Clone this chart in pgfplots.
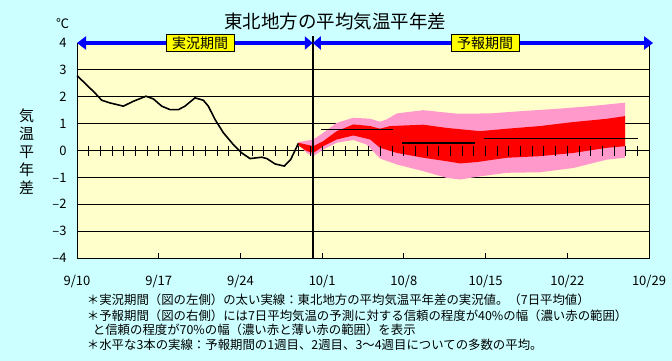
\documentclass[border=0pt]{standalone}
\usepackage{fontspec}
\setmainfont{Noto Sans CJK JP}
\usepackage{pgfplots}
\pgfplotsset{compat=1.18}
\usetikzlibrary{arrows.meta}
\definecolor{bgcyan}{HTML}{CCFFFF}
\definecolor{plotyellow}{HTML}{FFFFCC}
\definecolor{bandpink}{HTML}{FF99CC}
\definecolor{bandred}{HTML}{FF0000}
\definecolor{arrowblue}{HTML}{0000FF}
\definecolor{boxyellow}{HTML}{FFFF00}
\begin{document}
\begin{tikzpicture}
\useasboundingbox (0,0) rectangle (672bp,361bp);
\fill[bgcyan] (0,0) rectangle (672bp,361bp);
\begin{axis}[
  at={(77bp,103bp)}, anchor=south west, scale only axis,
  width=572bp, height=215bp,
  xmin=0, xmax=49, ymin=-4, ymax=4, clip=false,
  axis background/.style={fill=plotyellow},
  axis line style={black, line width=0.9bp},
  xtick={0,7,...,49},
  xticklabels={9/10,9/17,9/24,10/1,10/8,10/15,10/22,10/29},
  xtick pos=bottom, tick align=inside, major tick length=5bp,
  ytick={-4,...,4}, yticklabels={–4,–3,–2,–1,0,1,2,3,4},
  ytick style={draw=none},
  ymajorgrids, grid style={black, line width=0.8bp},
  tick label style={font=\fontsize{13bp}{15bp}\selectfont},
  yticklabel style={xshift=-7bp},
  xticklabel style={yshift=-14bp},
  xtick style={black, line width=0.9bp},
]
% daily ticks on the zero line
\addplot[black, line width=0.8bp, mark=|, mark size=5bp, mark options={line width=0.9bp}] coordinates {
(0,0) (1,0) (2,0) (3,0) (4,0) (5,0) (6,0) (7,0) (8,0) (9,0) (10,0) (11,0) (12,0)
(13,0) (14,0) (15,0) (16,0) (17,0) (18,0) (19,0) (20,0) (21,0) (22,0) (23,0) (24,0)
(25,0) (26,0) (27,0) (28,0) (29,0) (30,0) (31,0) (32,0) (33,0) (34,0) (35,0) (36,0)
(37,0) (38,0) (39,0) (40,0) (41,0) (42,0) (43,0) (44,0) (45,0) (46,0) (47,0) (48,0) (49,0)};
% 70% band
\addplot[fill=bandpink, draw=none] coordinates {
(18.96,0.31) (20.25,0.41) (21.10,0.66) (22.25,1.03) (23.68,1.22) (25.11,1.18) (25.96,1.07)
(26.54,1.16) (27.40,1.38) (29.67,1.50) (32.54,1.37) (35.39,1.38) (38.24,1.47) (41.10,1.55)
(43.96,1.65) (46.96,1.78)
(46.96,-0.27) (45.39,-0.34) (42.53,-0.65) (39.67,-0.81) (36.82,-0.83) (34.25,-0.98)
(32.82,-1.08) (31.68,-1.02) (29.67,-0.77) (27.40,-0.52) (25.96,-0.30) (24.82,0.22)
(23.68,0.39) (22.25,0.29) (21.10,0.04) (20.25,-0.21) (19.68,-0.09) (18.96,0.22)} -- cycle;
% 40% band
\addplot[fill=bandred, draw=none] coordinates {
(18.96,0.29) (20.25,0.16) (21.10,0.35) (22.25,0.72) (23.68,0.97) (25.11,0.91) (25.96,0.81)
(26.82,0.91) (29.67,0.96) (31.68,0.84) (33.10,0.78) (34.53,0.72) (36.82,0.81) (39.67,0.91)
(42.53,1.06) (45.39,1.18) (46.96,1.28)
(46.96,0.16) (45.39,0.10) (42.53,-0.09) (39.67,-0.21) (36.82,-0.27) (34.25,-0.43)
(32.82,-0.48) (31.68,-0.40) (29.67,-0.27) (27.40,-0.09) (25.96,0.10) (25.11,0.41)
(23.68,0.56) (22.25,0.41) (21.10,0.16) (20.25,-0.09) (19.68,-0.02) (18.96,0.19)} -- cycle;
% boundary between periods
\addplot[black, line width=2.3bp] coordinates {(20.2,-4) (20.2,4.25)};
% weekly means
\addplot[black, line width=1.8bp] coordinates {(20.91,0.78) (27.05,0.78)};
\addplot[black, line width=1.8bp] coordinates {(27.88,0.27) (34.10,0.27)};
\addplot[black, line width=1.8bp] coordinates {(34.88,0.45) (48.05,0.45)};
% observed
\addplot[black, line width=1.6bp] coordinates {
(0,2.79) (1.54,2.14) (2.12,1.87) (2.83,1.77) (3.97,1.65) (4.82,1.83) (5.91,2.02)
(6.54,1.92) (7.26,1.65) (7.97,1.52) (8.68,1.52) (9.25,1.65) (10.11,1.96) (10.82,1.87)
(11.25,1.65) (11.83,1.15) (12.54,0.66) (13.39,0.22) (14.11,-0.09) (14.82,-0.30)
(15.83,-0.25) (16.26,-0.30) (16.97,-0.50) (17.76,-0.58) (18.31,-0.33) (18.96,0.26)};
% period arrows
\draw[arrowblue, line width=3.5bp, {Triangle[length=9bp,width=13bp]}-{Triangle[length=8bp,width=13bp]}]
  (axis cs:0,4) -- (axis cs:20.2,4);
\draw[arrowblue, line width=3.5bp, {Triangle[length=8bp,width=13bp]}-{Triangle[length=9bp,width=13bp]}]
  (axis cs:20.2,4) -- (axis cs:49.35,4);
\node[fill=boxyellow, draw=black, line width=0.6bp, inner xsep=6bp, inner ysep=0pt,
  minimum height=17bp, font=\fontsize{14bp}{16bp}\selectfont] at (axis cs:10.54,4) {実況期間};
\node[fill=boxyellow, draw=black, line width=0.6bp, inner xsep=6bp, inner ysep=0pt,
  minimum height=17bp, font=\fontsize{14bp}{16bp}\selectfont] at (axis cs:34.96,4) {予報期間};
\end{axis}
% title and labels
\node[font=\fontsize{18.5bp}{20bp}\selectfont] at (335bp,339.5bp) {東北地方の平均気温平年差};
\node[font=\fontsize{13bp}{15bp}\selectfont] at (62.5bp,337.5bp) {℃};
\node[font=\fontsize{15bp}{18bp}\selectfont, align=center] at (26.7bp,209.3bp) {気\\温\\平\\年\\差};
% notes
\begin{scope}[every node/.style={anchor=base west, inner sep=0pt, font=\fontsize{12.4bp}{14bp}\selectfont}]
\node at (86.7bp,56bp) {＊実況期間（図の左側）の太い実線：東北地方の平均気温平年差の実況値。（7日平均値）};
\node at (86.7bp,40bp) {＊予報期間（図の右側）には7日平均気温の予測に対する信頼の程度が40\%の幅（濃い赤の範囲）};
\node at (92.7bp,27bp) {と信頼の程度が70\%の幅（濃い赤と薄い赤の範囲）を表示};
\node at (86.7bp,12bp) {＊水平な3本の実線：予報期間の1週目、2週目、3～4週目についての多数の平均。};
\end{scope}
\end{tikzpicture}
\end{document}
